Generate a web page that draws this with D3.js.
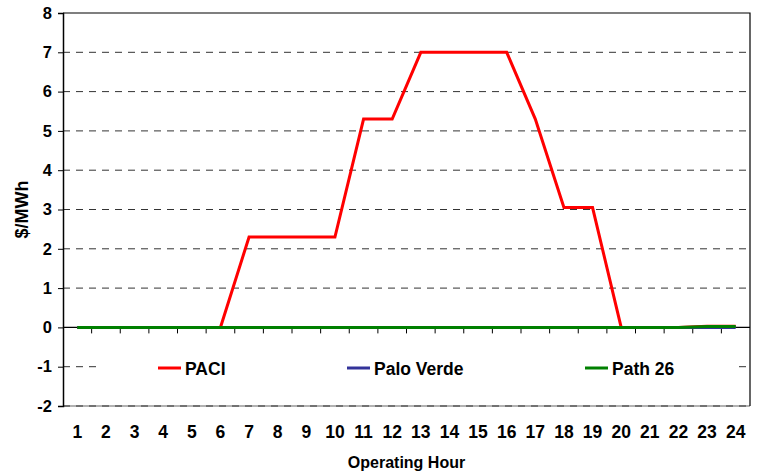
<!doctype html>
<html>
<head>
<meta charset="utf-8">
<script src="https://cdnjs.cloudflare.com/ajax/libs/d3/7.8.5/d3.min.js"></script>
<style>
  body { margin: 0; background: #fff; }
  svg { font-family: "Liberation Sans", Arial, sans-serif; font-weight: bold; }
</style>
</head>
<body>
<svg id="chart" width="757" height="476"></svg>
<script>
// data
var hours = d3.range(1, 25);
var paci      = [0, 0, 0, 0, 0, 0, 2.3, 2.3, 2.3, 2.3, 5.3, 5.3, 7, 7, 7, 7, 5.3, 3.05, 3.05, 0, 0, 0, 0.03, 0.03];
var paloVerde = [0, 0, 0, 0, 0, 0, 0, 0, 0, 0, 0, 0, 0, 0, 0, 0, 0, 0, 0, 0, 0, 0, 0, 0];
var path26    = [0, 0, 0, 0, 0, 0, 0, 0, 0, 0, 0, 0, 0, 0, 0, 0, 0, 0, 0, 0, 0, 0, 0.02, 0.02];
var yTicks = d3.range(-2, 9);

var series = [
  {name: "PACI", values: paci, color: "#ff0000"},
  {name: "Palo Verde", values: paloVerde, color: "#333399"},
  {name: "Path 26", values: path26, color: "#008000"}
];

var pL = 63, pR = 750, pT = 13, pB = 406;
var svg = d3.select("#chart");

var x = d3.scaleBand().domain(hours).range([pL, pR]);
var y = d3.scaleLinear().domain([-2, 8]).range([pB, pT]);
var cx = h => x(h) + x.bandwidth() / 2;

// gridlines
svg.append("line")
  .attr("x1", pL).attr("x2", pR).attr("y1", y(-2)).attr("y2", y(-2))
  .attr("stroke", "#999").attr("stroke-width", 1.5);
svg.append("g").selectAll("line")
  .data(yTicks.filter(v => v != 0 && v != 8))
  .enter().append("line")
  .attr("x1", pL).attr("x2", pR)
  .attr("y1", d => y(d)).attr("y2", d => y(d))
  .attr("stroke", "#333")
  .attr("stroke-dasharray", "7,6");

// legend box covers the -1 gridline
var legend = svg.append("g");
legend.append("rect")
  .attr("x", 98).attr("y", 350).attr("width", 641).attr("height", 34)
  .attr("fill", "#fff");

// frame top & right
svg.append("path")
  .attr("d", "M" + pL + "," + pT + "H" + pR + "V" + pB)
  .attr("fill", "none").attr("stroke", "#000").attr("stroke-width", 1.2);

// y axis
var yAxis = svg.append("g")
  .attr("transform", "translate(" + pL + ",0)")
  .call(d3.axisLeft(y).tickValues(yTicks).tickSize(5).tickPadding(6).tickFormat(d => String(d)));
yAxis.select(".domain").attr("stroke", "#000").attr("stroke-width", 1.5);
yAxis.selectAll("text").attr("font-size", 16.5).attr("font-family", "Liberation Sans").attr("font-weight", "bold").attr("fill", "#000");

// zero line and category ticks
svg.append("line")
  .attr("x1", pL).attr("x2", pR).attr("y1", y(0)).attr("y2", y(0))
  .attr("stroke", "#000").attr("stroke-width", 1.2);
svg.append("g").selectAll("line")
  .data(hours.slice(1))
  .enter().append("line")
  .attr("x1", d => x(d)).attr("x2", d => x(d))
  .attr("y1", y(0)).attr("y2", y(0) + 6)
  .attr("stroke", "#000");

// x labels
var xAxis = svg.append("g")
  .attr("transform", "translate(0," + pB + ")")
  .call(d3.axisBottom(x).tickSize(0).tickPadding(20));
xAxis.select(".domain").remove();
xAxis.selectAll("text").attr("font-size", 17.5).attr("font-family", "Liberation Sans").attr("font-weight", "bold").attr("fill", "#000");

// lines
var line = d3.line().x((d, i) => cx(hours[i])).y(d => y(d));
svg.append("g").selectAll("path")
  .data(series)
  .enter().append("path")
  .attr("d", d => line(d.values))
  .attr("fill", "none")
  .attr("stroke", d => d.color)
  .attr("stroke-width", 3)
  .attr("stroke-linejoin", "miter");

// legend entries
var legX = [158, 347, 585];
series.forEach(function(s, i) {
  legend.append("line")
    .attr("x1", legX[i]).attr("x2", legX[i] + 23)
    .attr("y1", 368).attr("y2", 368)
    .attr("stroke", s.color).attr("stroke-width", 3);
  legend.append("text")
    .attr("x", legX[i] + 27).attr("y", 374.5)
    .attr("font-size", 17.5)
    .text(s.name);
});

// axis titles
svg.append("text")
  .attr("x", (pL + pR) / 2).attr("y", 468)
  .attr("text-anchor", "middle").attr("font-size", 16)
  .text("Operating Hour");
svg.append("text")
  .attr("transform", "translate(28," + (pT + pB) / 2 + ") rotate(-90)")
  .attr("text-anchor", "middle").attr("font-size", 18)
  .text("$/MWh");
</script>
</body>
</html>
